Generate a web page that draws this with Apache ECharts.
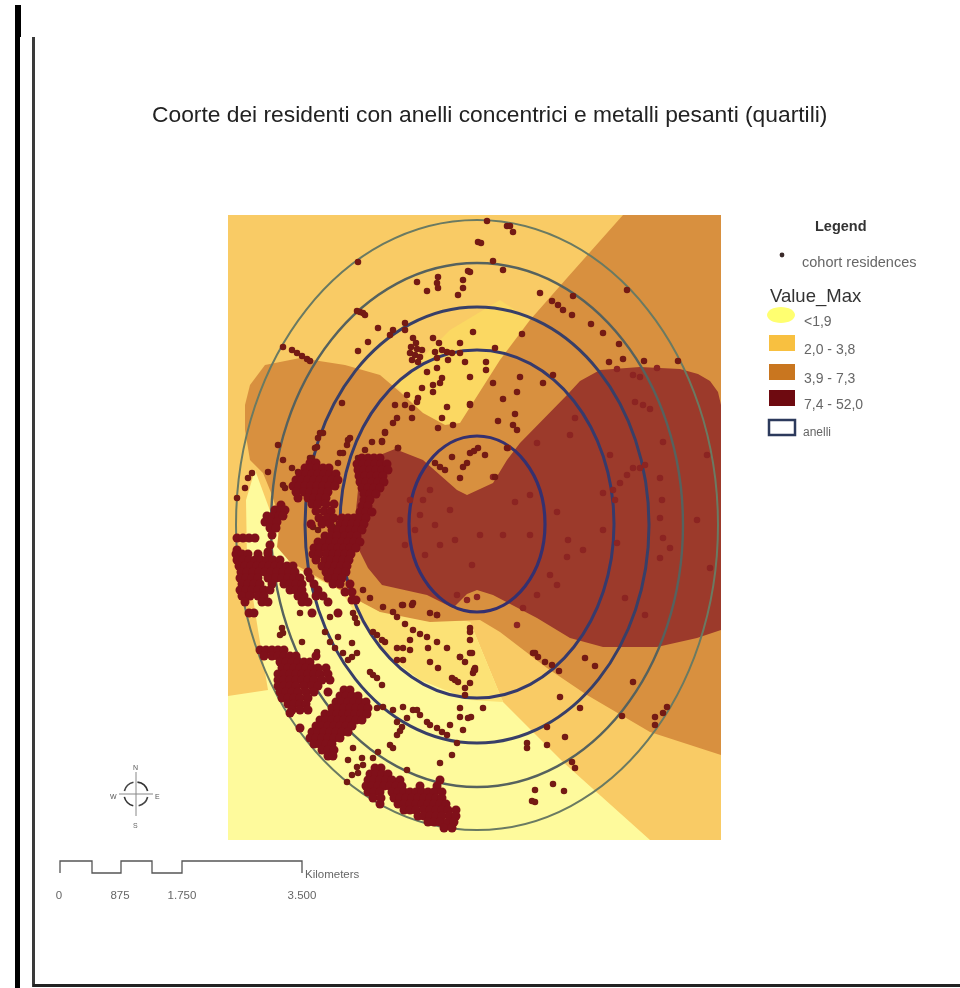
<!DOCTYPE html>
<html><head><meta charset="utf-8">
<style>html,body{margin:0;padding:0;background:#fff}#c{width:960px;height:988px;filter:blur(0.75px)}</style>
<script src="https://cdn.jsdelivr.net/npm/echarts@6/dist/echarts.min.js"></script>
</head><body><div id="c"></div>
<script>
// Map units are the sheet's own coordinates.
const titleText = 'Coorte dei residenti con anelli concentrici e metalli pesanti (quartili)';
const legendLabels = ['<1,9','2,0 - 3,8','3,9 - 7,3','7,4 - 52,0','anelli'];
const legendColors = ['#FFFF70','#F8C040','#C9761F','#6E0A10'];
const scaleLabels = ['0','875','1.750','3.500'];

const zoneBase = [[228,215],[721,215],[721,840],[228,840]];
const zoneLow = [[228,696],[268,690],[258,630],[247,560],[246,500],[255,470],[290,565],[340,590],[380,612],[470,622],[503,702],[563,762],[650,840],[228,840]];
const zoneLowEdge = [[340,590],[380,612],[470,622],[503,702],[470,700],[420,680],[380,650]];
const zoneBaseBright = [[395,385],[423,413],[445,425],[460,423],[500,360],[530,320],[500,300],[450,330],[420,360]];
const zoneHigh = [[623,215],[721,215],[721,755],[650,732],[587,695],[547,668],[500,632],[480,620],[430,622],[380,612],[363,603],[340,590],[305,570],[290,562],[277,547],[280,520],[272,495],[263,473],[250,460],[245,430],[245,405],[250,385],[265,365],[300,358],[345,365],[380,375],[400,392],[423,413],[445,425],[460,423],[500,360],[530,320],[567,278]];
const zoneTop = [[721,405],[718,392],[710,381],[698,374],[680,369],[640,367],[600,370],[580,381],[567,395],[520,443],[507,460],[493,483],[467,495],[457,490],[423,460],[395,449],[380,455],[366,470],[358,490],[355,520],[358,548],[368,568],[382,585],[427,595],[453,608],[467,594],[477,590],[493,595],[537,618],[570,638],[603,647],[657,647],[697,638],[721,630]];

// cx, cy, rx, ry
const rings = [[477,524,68,88],[477,524,137,174],[477,525,172,218],[477,525,206,262],[477,525,241,305]];
const ringColors = ['#35306f','#363a6c','#383f68','#56625e','#6a7a62'];
const ringWidths = [3.2,3,3,2.4,2];

const sparseResidences = [[358,262],[283,347],[292,350],[297,353],[302,356],[307,359],[310,361],[360,312],[363,313],[357,311],[365,315],[417,282],[427,291],[438,277],[437,283],[438,288],[468,271],[463,280],[463,288],[458,295],[478,242],[378,328],[368,342],[358,351],[393,330],[390,335],[405,323],[405,330],[413,338],[416,343],[411,347],[417,349],[422,350],[410,353],[415,355],[420,357],[412,360],[418,362],[433,338],[439,343],[435,352],[442,350],[447,352],[452,353],[437,358],[448,360],[460,343],[460,353],[465,362],[473,332],[427,372],[437,368],[442,378],[433,385],[422,388],[433,392],[440,383],[470,377],[407,395],[417,402],[412,408],[405,405],[397,418],[393,423],[412,418],[418,398],[395,405],[447,407],[442,418],[438,428],[453,425],[470,404],[385,432],[382,441],[342,403],[398,448],[372,442],[350,438],[347,445],[340,453],[323,433],[318,438],[315,448],[310,458],[278,445],[252,473],[248,478],[245,488],[237,498],[268,472],[283,460],[292,468],[298,472],[285,488],[283,485],[295,488],
[320,433],[317,447],[312,458],[348,440],[343,453],[338,463],[365,450],[358,458],[385,433],[382,442],
[313,527],[318,530],[327,540],[330,513],[333,527],[313,555],[300,613],[330,617],[353,613],[363,590],[370,598],[383,607],[393,612],
[282,628],[283,633],[280,635],[302,642],[252,613],[325,632],[330,642],[335,648],[343,653],[352,657],[357,653],[352,643],[338,637],[348,660],[317,652],[377,635],[382,640],[373,632],[385,642],[355,618],[357,623],[370,672],[377,678],[382,685],[373,675],
[397,617],[413,630],[427,637],[437,642],[447,648],[405,624],[420,634],[403,605],[413,603],[430,613],[437,615],[403,648],[410,640],[397,648],[410,650],[403,660],[397,660],[428,648],[430,662],[438,668],[470,628],[470,640],[470,653],[460,657],[465,662],[475,668],[473,673],[452,678],[458,682],[465,688],[470,683],[465,695],[460,708],[460,717],[468,718],[463,730],[450,725],[452,755],[440,763],[407,770],
[413,710],[407,718],[402,727],[397,735],[390,745],[403,707],[400,731],[393,748],[397,722],[383,707],[377,708],[393,710],[417,710],[427,722],[437,728],[447,735],[457,743],[420,715],[430,725],[442,732],[373,758],[378,752],[362,758],[357,767],[352,775],[347,782],[363,765],[358,773],[353,748],[348,760],
[487,221],[507,226],[510,226],[513,232],[481,243],[493,261],[503,270],[470,272],[540,293],[552,301],[558,305],[563,310],[572,315],[573,296],[591,324],[603,333],[619,344],[609,362],[623,359],[644,361],[627,290],[678,361],[522,334],[495,348],[486,362],[486,370],[493,383],[503,399],[520,377],[517,392],[543,383],[553,375],[498,421],[515,414],[513,425],[517,430],[470,405],[470,453],[478,448],[474,451],[485,455],[467,463],[463,467],[440,467],[435,463],[445,470],[452,457],[460,478],[495,477],[507,448],[398,448],
[533,653],[538,657],[545,662],[552,665],[559,671],[585,658],[595,666],[633,682],[560,697],[580,708],[622,716],[547,727],[565,737],[547,745],[527,748],[527,743],[572,762],[575,768],[553,784],[564,791],[535,790],[532,801],[535,802],[655,717],[655,725],[667,707],[663,713],[483,708],[471,717],[474,670],[472,653],[470,632],[437,615],[412,605],[402,605],[460,657],[475,670],[455,680],[535,653]];

const residencesOverTopZone = [[657,368],[617,369],[633,375],[640,377],[635,402],[643,405],[650,409],[640,468],[633,468],[645,465],[627,475],[620,483],[613,490],[615,500],[603,493],[570,435],[575,418],[537,443],[515,502],[530,495],[493,477],[508,448],[663,442],[660,478],[662,500],[660,518],[697,520],[707,455],[610,455],[557,512],[480,535],[503,535],[530,535],[568,540],[583,550],[567,557],[550,575],[557,585],[537,595],[523,608],[517,625],[603,530],[617,543],[625,598],[645,615],[663,538],[670,548],[660,558],[710,568],[472,565],[410,500],[420,515],[430,490],[435,525],[415,530],[440,545],[425,555],[405,545],[450,510],[455,540],[400,520],[423,500],[457,595],[467,600],[477,597]];

// dense blocks as rows: [y, x, x, x, ...]
const blockCentre = [[463,310,316],[468,305,311,317,323,329],[474,300,306,312,318,324,330,336],[480,296,302,308,314,320,326,332,338],[486,293,299,305,311,317,323,329,335],[492,296,304,310,316,322,328],[498,298,308,314,320,326],[504,312,318,326,334],[511,316,324,331],[518,319,327,334],[524,311,322,330]];
const blockCentreEast = [[458,362,368,374,380],[464,357,363,369,375,381,387],[470,358,364,370,376,382,388],[476,359,365,371,377,383],[482,360,366,372,378,384],[488,362,368,374,380],[494,364,370,376],[500,364,370],[506,362,368],[512,360,366,372],[518,342,348,354,360,366],[524,340,346,352,358,364],[530,332,338,344,350,356,362],[536,325,331,337,345,351,357],[542,318,324,330,336,342,348,354,360],[548,314,320,326,332,338,344,350,356],[554,313,319,327,333,339,345,351],[560,316,325,331,337,343,349],[566,322,329,335,341,347],[572,326,332,338,346],[578,328,336,342],[584,333,340,350],[592,345,352],[600,352,356]];
const blockWest = [[538,237,243,249,255],[550,237],[554,236,242,248,258,268],[560,237,243,249,255,261,267,273,280],[566,239,245,251,257,263,269,275,281,287,293],[572,241,247,253,259,265,271,277,283,289,295,308],[578,240,246,252,258,268,276,282,288,294,300,310],[584,242,248,254,260,272,284,290,296,302,314],[590,240,246,252,258,264,270,290,296,302,318],[596,242,250,258,264,298,304,316,323],[602,245,262,268,302,308,328],[613,249,254,312,338]];
const blockWestUpper = [[505,281],[510,275,281,285],[516,267,273,279,283],[522,265,271,277],[528,270,276],[535,272],[545,270],[552,268]];
const blockSouthWest = [[650,260,266,272,278,284],[656,264,272,278,284,290,296,316],[662,280,286,292,298,304,310],[668,282,288,294,300,306,312,318,326],[674,278,284,290,296,302,308,314,320,328],[680,278,284,290,296,302,308,314,322,330],[686,278,284,290,296,304,312,318],[692,280,286,292,298,306,314,328],[698,282,288,294,300,308],[704,288,294,300,306],[710,292,300,308],[713,290],[728,300]];
const blockSouth = [[690,344,350],[696,340,346,352,358],[702,336,342,348,354,360,366],[708,332,338,344,350,356,362,368],[714,325,331,337,343,349,355,361,367],[720,320,326,332,338,344,350,356,362],[726,316,322,328,334,340,346,352],[732,312,318,324,330,336,342,348],[738,310,316,322,328,334,340],[744,314,320,326,332],[750,322,328,334],[756,328,333]];
const blockSouthEast = [[768,375,381],[774,370,376,382,388],[780,368,374,380,386,392,400,440],[786,366,372,378,384,390,396,402,420,437],[792,368,374,380,392,398,404,410,416,422,428,434,442],[798,373,381,394,400,406,412,418,424,430,436,442],[804,380,398,404,410,416,422,428,434,440,446],[810,404,410,416,424,430,436,442,448,456],[816,418,424,430,436,442,450,456],[822,428,434,440,448,454],[828,444,452]];

const compassLetters = ['N','S','W','E'];

const fromRows = rows => rows.flatMap(r => r.slice(1).map(x => [x, r[0]]));
const denseResidences = [blockCentre,blockCentreEast,blockWest,blockWestUpper,blockSouthWest,blockSouth,blockSouthEast].flatMap(fromRows);

const polygonSeries = (name, pts, color, z) => ({
  type:'custom', name, coordinateSystem:'cartesian2d', silent:true, z, clip:false,
  data:[0], encode:{x:[],y:[]},
  renderItem:(p,api)=>({type:'polygon',shape:{points:pts.map(q=>api.coord(q))},style:{fill:color}})
});

const chart = echarts.init(document.getElementById('c'),null,{renderer:'canvas'});
const txt = (x,y,text,size,color,extra)=>({type:'text',x,y,silent:true,z:20,style:Object.assign({text,fontSize:size,fontFamily:'Liberation Sans',fill:color,textBaseline:'middle'},extra||{})});
const swatchRows = [315,343,372,398,427];
const graphics = [
  {type:'rect',shape:{x:15,y:5,width:6,height:32},style:{fill:'#000'},silent:true},
  {type:'rect',shape:{x:15,y:37,width:5,height:951},style:{fill:'#000'},silent:true},
  {type:'rect',shape:{x:32,y:37,width:3,height:950},style:{fill:'#3a3a3a'},silent:true},
  {type:'rect',shape:{x:33,y:984,width:927,height:3},style:{fill:'#222'},silent:true},
  txt(815,219,'Legend',14.5,'#333',{fontWeight:'bold'}),
  {type:'circle',shape:{cx:782,cy:255,r:2.4},style:{fill:'#3a2a2a'},silent:true},
  txt(802,255,'cohort residences',14.5,'#666'),
  txt(770,287,'Value_Max',18.5,'#333'),
  {type:'ellipse',shape:{cx:781,cy:315,rx:14,ry:8},style:{fill:legendColors[0]},silent:true},
  ...legendColors.slice(1).map((c,i)=>({type:'rect',shape:{x:769,y:swatchRows[i+1]-8,width:26,height:16},style:{fill:c},silent:true})),
  {type:'rect',shape:{x:769,y:420,width:26,height:15},style:{fill:'#fff',stroke:'#2c3a5c',lineWidth:2.5},silent:true},
  ...legendLabels.map((t,i)=>txt(i===4?803:804,swatchRows[i],t,i===4?12:14,'#666')),
  // compass
  {type:'line',shape:{x1:136,y1:772,x2:136,y2:816},style:{stroke:'#888',lineWidth:1},silent:true},
  {type:'line',shape:{x1:119,y1:794,x2:153,y2:794},style:{stroke:'#888',lineWidth:1},silent:true},
  {type:'arc',shape:{cx:136,cy:794,r:12,startAngle:-1.45,endAngle:-0.25},style:{stroke:'#333',fill:'none',lineWidth:1.6},silent:true},
  {type:'arc',shape:{cx:136,cy:794,r:12,startAngle:0.25,endAngle:1.35},style:{stroke:'#444',fill:'none',lineWidth:1.6},silent:true},
  {type:'arc',shape:{cx:136,cy:794,r:12,startAngle:1.8,endAngle:2.9},style:{stroke:'#333',fill:'none',lineWidth:1.6},silent:true},
  {type:'arc',shape:{cx:136,cy:794,r:12,startAngle:3.4,endAngle:4.5},style:{stroke:'#444',fill:'none',lineWidth:1.6},silent:true},
  txt(133,765,compassLetters[0],7,'#555'),
  txt(133,823,compassLetters[1],7,'#666'),
  txt(110,794,compassLetters[2],7,'#555'),
  txt(155,794,compassLetters[3],7,'#555'),
  // scale bar
  {type:'polyline',shape:{points:[[60,873],[60,861],[92,861],[92,873],[121,873],[121,861],[152,861],[152,873],[182,873],[182,861],[302,861],[302,873]]},style:{stroke:'#555',fill:'none',lineWidth:1.3},silent:true},
  txt(305,869,'Kilometers',11.5,'#666'),
  ...[59,120,182,302].map((x,i)=>txt(x,890,scaleLabels[i],11.5,'#666',{textAlign:'center'}))
];

chart.setOption({
  animation:false, backgroundColor:'#fff',
  title:{text:titleText,left:147,top:99,textStyle:{fontFamily:'Liberation Sans',fontWeight:'normal',fontSize:22.8,color:'#222'}},
  grid:{left:0,right:0,top:0,bottom:0},
  xAxis:{type:'value',min:0,max:960,show:false},
  yAxis:{type:'value',min:0,max:988,inverse:true,show:false},
  graphic:graphics,
  series:[
    polygonSeries('2,0 - 3,8',zoneBase,'#F9CB65',1),
    polygonSeries('brighter',zoneBaseBright,'#FBD862',2),
    polygonSeries('<1,9',zoneLow,'#FEFA9C',3),
    polygonSeries('edge',zoneLowEdge,'#FCE276',4),
    polygonSeries('3,9 - 7,3',zoneHigh,'#D8903F',5),
    polygonSeries('7,4 - 52,0',zoneTop,'#9C3A2B',6),
    {type:'custom',name:'anelli',coordinateSystem:'cartesian2d',silent:true,z:7,clip:false,
     data:rings,encode:{x:0,y:1},
     renderItem:(p,api)=>{
       const r=rings[p.dataIndex];const c=api.coord([r[0],r[1]]);const s=api.size([r[2],r[3]]);
       return {type:'ellipse',shape:{cx:c[0],cy:c[1],rx:s[0],ry:s[1]},style:{fill:'none',stroke:ringColors[p.dataIndex],lineWidth:ringWidths[p.dataIndex]}};
     }},
    {type:'scatter',name:'cohort residences top zone',data:residencesOverTopZone,symbolSize:6.5,z:8,silent:true,itemStyle:{color:'#8C2422',opacity:1}},
    {type:'scatter',name:'cohort residences',data:sparseResidences,symbolSize:6.5,z:9,silent:true,itemStyle:{color:'#741A14',opacity:1}},
    {type:'scatter',name:'cohort residences dense',data:denseResidences,symbolSize:9,z:10,silent:true,itemStyle:{color:'#80101A',opacity:1}}
  ]
});
</script></body></html>
